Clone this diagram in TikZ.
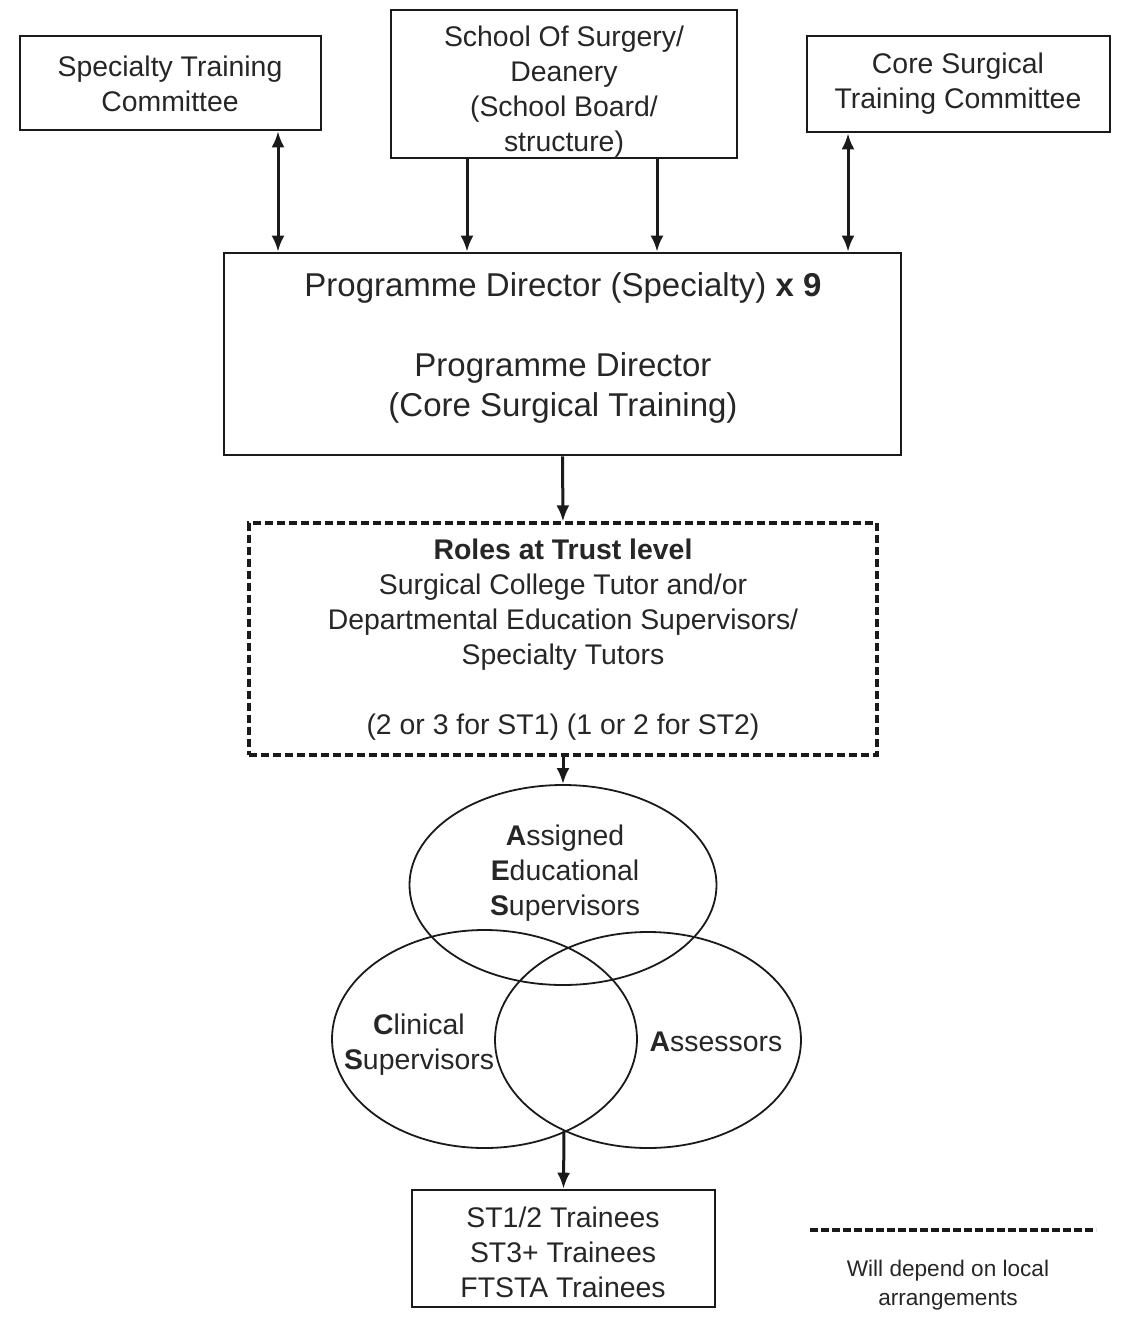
\documentclass[tikz,border=0pt]{standalone}
\usepackage{fontspec}
\setmainfont{Liberation Sans}
\usetikzlibrary{shapes.geometric,arrows.meta}
\definecolor{linec}{HTML}{1A1A1A}
\definecolor{txtc}{HTML}{262626}
\begin{document}
\begin{tikzpicture}[x=0.5pt,y=-0.5pt,
  box/.style={draw=linec, line width=1.3pt, inner sep=0pt},
  dbox/.style={draw=linec, line width=1.6pt, dash pattern=on 4pt off 2pt, inner sep=0pt},
  txt/.style={text=txtc, align=center, inner sep=0pt, font=\fontsize{14.2}{17.5}\selectfont},
  bigtxt/.style={text=txtc, align=center, inner sep=0pt, font=\fontsize{16.5}{20}\selectfont},
  smalltxt/.style={text=txtc, align=center, inner sep=0pt, font=\fontsize{11.3}{14.5}\selectfont},
  vennc/.style={draw=linec, line width=0.9pt, ellipse, inner sep=0pt},
  arr/.style={draw=linec, line width=1.5pt, -{Latex[length=8pt,width=6.5pt]}},
  darr/.style={draw=linec, line width=1.5pt, {Latex[length=8pt,width=6.5pt]}-{Latex[length=8pt,width=6.5pt]}},
  legline/.style={draw=linec, line width=1.6pt, dash pattern=on 4pt off 1.5pt}]
\useasboundingbox (0,0) rectangle (1127,1318);

% boxes
\node[box, minimum width=150.5pt, minimum height=47pt] (stc) at (170.5,83) {};
\node[box, minimum width=173pt, minimum height=74pt] (school) at (564,84) {};
\node[box, minimum width=151.5pt, minimum height=48pt] (cstc) at (958.5,84) {};
\node[box, minimum width=338.5pt, minimum height=101pt] (pd) at (562.5,354) {};
\node[dbox, minimum width=314pt, minimum height=116pt] (roles) at (563,639) {};
\node[box, minimum width=151.5pt, minimum height=58.5pt] (train) at (563.5,1248.5) {};

% venn ellipses
\node[vennc, minimum width=153.5pt, minimum height=100pt] (aes) at (563,885) {};
\node[vennc, minimum width=152.5pt, minimum height=109pt] (cs) at (484.5,1039) {};
\node[vennc, minimum width=153pt, minimum height=108pt] (ass) at (648,1040) {};

% texts
\node[txt] (stct) at (170,84) {Specialty Training\\Committee};
\node[txt] (schoolt) at (564,92) {School Of Surgery/\\Deanery\\(School Board/\\structure)};
\node[txt] (cstct) at (958,84) {Core Surgical\\Training Committee};
\node[bigtxt] (pdt) at (563,347.5) {Programme Director (Specialty) \textbf{x 9}\\[20pt]Programme Director\\(Core Surgical Training)};
\node[txt] (rolest) at (563,640) {\textbf{Roles at Trust level}\\Surgical College Tutor and/or\\Departmental Education Supervisors/\\Specialty Tutors\\[17.5pt](2 or 3 for ST1) (1 or 2 for ST2)};
\node[txt] (aest) at (565,873) {\textbf{A}ssigned\\\textbf{E}ducational\\\textbf{S}upervisors};
\node[txt] (cst) at (419,1045) {\textbf{C}linical\\\textbf{S}upervisors};
\node[txt] (asst) at (716,1042) {\textbf{A}ssessors};
\node[txt] (traint) at (563,1252) {ST1/2 Trainees\\ST3+ Trainees\\FTSTA Trainees};
\node[smalltxt] (legt) at (948,1285) {Will depend on local\\arrangements};

% connector x positions
\coordinate (xa) at (278,0);
\coordinate (xb) at (467,0);
\coordinate (xc) at (657,0);
\coordinate (xd) at (848,0);
\coordinate (vbot) at (564,1131);
\coordinate (l1) at (810,1230);
\coordinate (l2) at (1096,1230);

% connectors
\draw[darr] (stc.south -| xa) -- (pd.north -| xa);
\draw[arr] (school.south -| xb) -- (pd.north -| xb);
\draw[arr] (school.south -| xc) -- (pd.north -| xc);
\draw[darr] (cstc.south -| xd) -- (pd.north -| xd);
\draw[arr] (pd.south) -- (roles.north);
\draw[arr] (roles.south) -- (aes.north);
\draw[arr] (vbot) -- (train.north);

% legend
\draw[legline] (l1) -- (l2);
\end{tikzpicture}
\end{document}
